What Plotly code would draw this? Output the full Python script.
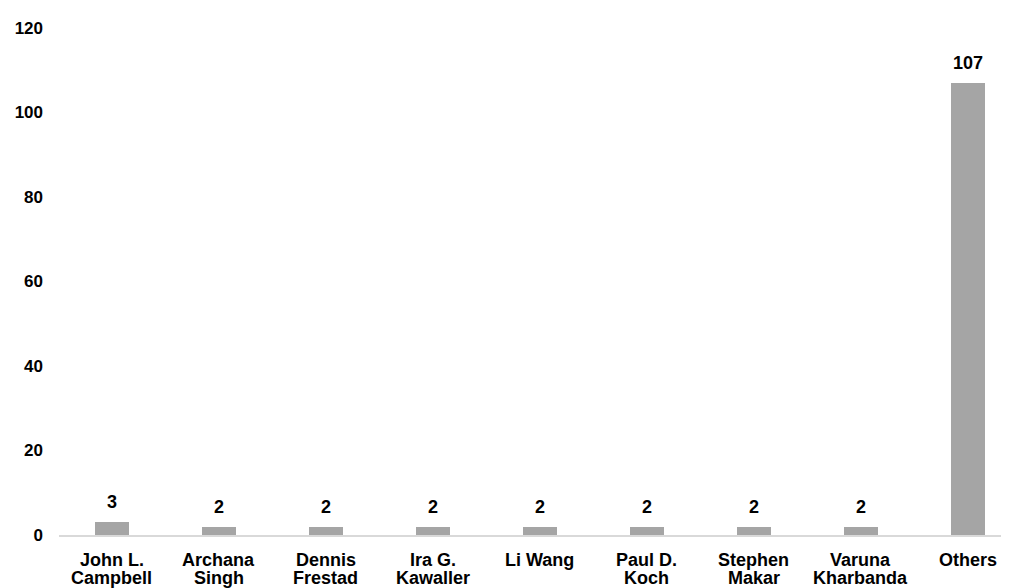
import plotly.graph_objects as go

categories = [["John L.", "Campbell"], ["Archana", "Singh"], ["Dennis", "Frestad"],
              ["Ira G.", "Kawaller"], ["Li Wang"], ["Paul D.", "Koch"],
              ["Stephen", "Makar"], ["Varuna", "Kharbanda"], ["Others"]]
values = [3, 2, 2, 2, 2, 2, 2, 2, 107]
y_ticks = [0, 20, 40, 60, 80, 100, 120]

FONT = "Liberation Sans"
xs = list(range(len(categories)))

fig = go.Figure(go.Bar(
    x=xs, y=values,
    marker=dict(color="#a5a5a5", line=dict(width=0)),
    width=0.32,
    hoverinfo="skip",
))

annotations = []
# data labels
for x, v in zip(xs, values):
    annotations.append(dict(
        x=x, y=v, xref="x", yref="y", text=f"<b>{v}</b>", showarrow=False,
        yanchor="bottom", yshift=8,
        font=dict(family=FONT, size=18, color="#000000"),
    ))
# category labels (tight line spacing)
line_shifts = [-25, -43]
for x, lines in zip(xs, categories):
    for i, line in enumerate(lines):
        annotations.append(dict(
            x=x, y=0, xref="x", yref="paper", text=f"<b>{line}</b>", showarrow=False,
            yanchor="middle", yshift=line_shifts[i],
            font=dict(family=FONT, size=18, color="#000000"),
        ))

fig.update_layout(
    width=1009, height=588,
    margin=dict(l=51, r=0, t=20, b=61),
    paper_bgcolor="white", plot_bgcolor="white",
    font=dict(family=FONT, size=17, color="#000000"),
    showlegend=False,
    bargap=0,
    annotations=annotations,
)
fig.update_xaxes(
    range=[-0.495, 8.458],
    showticklabels=False,
    showline=True, linecolor="#d9d9d9", linewidth=1.5,
    showgrid=False, ticks="", zeroline=False,
)
fig.update_yaxes(
    range=[0, 120],
    tickmode="array", tickvals=y_ticks,
    ticktext=[f"<b>{t}</b>" for t in y_ticks],
    showgrid=False, zeroline=False, showline=False, ticks="",
    ticklabelstandoff=15,
)
fig.write_html("out.html")
